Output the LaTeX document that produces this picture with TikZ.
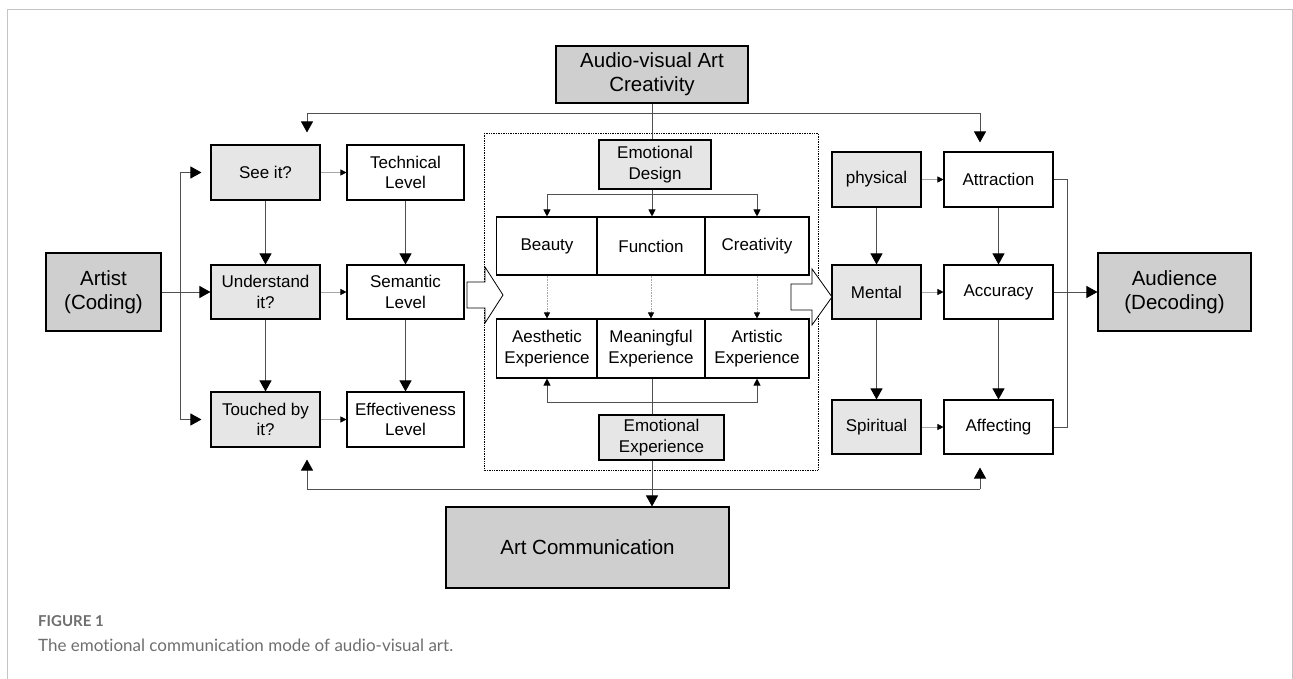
\documentclass[tikz,border=0pt]{standalone}
\usepackage{fontspec}
\setmainfont{Liberation Sans}
\newfontfamily\capfont[Ligatures=NoCommon]{Lato}
\usetikzlibrary{arrows.meta}
\definecolor{darkfill}{HTML}{D0CFD0}
\definecolor{lightfill}{HTML}{E7E6E7}
\definecolor{linegray}{HTML}{505050}
\definecolor{framegray}{HTML}{C4C4C4}
\definecolor{capgray}{HTML}{6E6E6E}
\tikzset{
  box/.style={draw=black, line width=1.1pt, align=center, inner sep=0pt,
    font=\fontsize{17}{20.5}\selectfont},
  mainbox/.style={box, fill=darkfill, font=\fontsize{20.5}{24}\selectfont},
  greybox/.style={box, fill=lightfill},
  plainbox/.style={box, fill=white},
  conn/.style={draw=linegray, line width=0.9pt},
  bigarr/.style={conn, -{Triangle[length=11pt,width=12pt,color=black]}},
  medarr/.style={conn, -{Triangle[length=7pt,width=7pt,color=black]}},
  smallarr/.style={draw=gray!70, line width=0.6pt, -{Triangle[length=6pt,width=6pt,color=black]}},
  dotarr/.style={draw=gray!70, line width=0.6pt, densely dotted, -{Triangle[length=6pt,width=6pt,color=black]}},
  hollow/.style={draw=black, line width=0.8pt, fill=white}
}
\begin{document}
\begin{tikzpicture}[x=1pt,y=-1pt]
\useasboundingbox (0,0) rectangle (1293,679);
\def\bx#1#2#3#4#5#6#7{
\node[#1, minimum width=#5pt, minimum height=#6pt] (#2) at (#3,#4) {#7};
}
\def\harr#1#2#3#4{
\draw[hollow] (#1,#2-13) -- ++(#3,0) -- ++(0,-15) -- ++(#4,28) -- ++(-#4,28)
  -- ++(0,-15) -- ++(-#3,0) -- cycle;
}
% page frame
\draw[framegray, line width=1pt] (7,679) -- (7,10) -- (1292,10) -- (1292,679);
% dotted frame round the design part
\draw[densely dotted, line width=0.7pt] (484,133) rectangle (818,470);
% big boxes
\bx{mainbox}{avc}{652}{74.5}{192}{57}{Audio-visual Art\\Creativity}
\bx{mainbox}{artist}{103.5}{292}{115}{78}{Artist\\(Coding)}
\bx{mainbox}{audience}{1174.5}{292}{153}{78}{Audience\\(Decoding)}
\bx{mainbox}{artcomm}{587.5}{547.5}{283}{81}{Art Communication}
% left block
\bx{greybox}{seeit}{265.5}{172.5}{109}{55}{See it?}
\bx{greybox}{underst}{265.5}{292}{109}{54}{Understand\\it?}
\bx{greybox}{touched}{265.5}{419.5}{109}{55}{Touched by\\it?}
\bx{plainbox}{technical}{405.5}{172.5}{117}{55}{Technical\\Level}
\bx{plainbox}{semantic}{405.5}{292}{117}{54}{Semantic\\Level}
\bx{plainbox}{effective}{405.5}{419.5}{117}{55}{Effectiveness\\Level}
% middle block
\bx{greybox}{edesign}{655}{164.5}{112}{49}{Emotional\\Design}
\bx{plainbox}{beauty}{547}{246}{101}{58}{Beauty}
\bx{plainbox}{function}{651}{246}{108}{58}{Function}
\bx{plainbox}{creat}{757}{246}{104}{58}{Creativity}
\bx{plainbox}{aesth}{547}{348.5}{101}{59}{Aesthetic\\Experience}
\bx{plainbox}{meaning}{651}{348.5}{108}{59}{Meaningful\\Experience}
\bx{plainbox}{artistic}{757}{348.5}{104}{59}{Artistic\\Experience}
\bx{greybox}{eexp}{661.5}{437.5}{125}{45}{Emotional\\Experience}
% right block
\bx{greybox}{physical}{876.5}{179.5}{89}{55}{physical}
\bx{greybox}{mental}{876.5}{292}{89}{54}{Mental}
\bx{greybox}{spiritual}{876.5}{427}{89}{54}{Spiritual}
\bx{plainbox}{attraction}{998.5}{179.5}{109}{55}{Attraction}
\bx{plainbox}{accuracy}{998.5}{292}{109}{54}{Accuracy}
\bx{plainbox}{affecting}{998.5}{427}{109}{54}{Affecting}
% hollow arrows
\harr{467}{295}{18}{18}
\harr{791}{297}{21}{20}
% top and bottom lines
\coordinate (tl) at (307,113);
\coordinate (tr) at (980,113);
\coordinate (bl) at (307,489);
\coordinate (br) at (980,489);
\draw[conn] (avc.south) -- (avc.south |- edesign.north);
\draw[bigarr, shorten >=12pt] (tr) -- (tl) -- (tl |- seeit.north);
\draw[bigarr, shorten >=9pt] (tr) -- (tr |- attraction.north);
\draw[bigarr, shorten >=12pt] (br) -- (bl) -- (bl |- touched.south);
\draw[bigarr, shorten >=13pt] (br) -- (br |- affecting.south);
% artist side
\coordinate (lv) at (180,0);
\draw[bigarr] (artist.east) -- (underst.west);
\draw[bigarr, shorten >=9pt] (lv |- touched) -- (lv |- seeit) -- (seeit.west);
\draw[bigarr, shorten >=9pt] (lv |- seeit) -- (lv |- touched) -- (touched.west);
\draw[bigarr] (seeit) -- (underst);
\draw[bigarr] (underst) -- (touched);
\draw[bigarr] (technical) -- (semantic);
\draw[bigarr] (semantic) -- (effective);
\draw[smallarr] (seeit) -- (technical);
\draw[smallarr] (underst) -- (semantic);
\draw[smallarr] (touched) -- (effective);
% design part
\coordinate (ed) at (652,194);
\coordinate (ex) at (652,402);
\draw[conn] (ed |- edesign.south) -- (ed);
\draw[medarr] (ed) -| (beauty.north);
\draw[medarr] (ed) -| (creat.north);
\draw[medarr] (ed) -- (ed |- function.north);
\draw[dotarr] (beauty) -- (aesth);
\draw[dotarr] (function) -- (meaning);
\draw[dotarr] (creat) -- (artistic);
\draw[conn] (ex |- meaning.south) -- (ex |- eexp.north);
\draw[medarr] (ex) -| (aesth.south);
\draw[medarr] (ex) -| (artistic.south);
\draw[bigarr] (ex |- eexp.south) -- (ex |- artcomm.north);
% audience side
\draw[bigarr] (physical) -- (mental);
\draw[bigarr] (mental) -- (spiritual);
\draw[bigarr] (attraction) -- (accuracy);
\draw[bigarr] (accuracy) -- (affecting);
\draw[smallarr] (physical) -- (attraction);
\draw[smallarr] (mental) -- (accuracy);
\draw[smallarr] (spiritual) -- (affecting);
\draw[conn] (attraction.east) -- ++(14,0) |- (affecting.east);
\draw[bigarr] (accuracy) -- (audience);
% caption
\node[anchor=base west, inner sep=0pt, text=capgray, font=\capfont\fontsize{15}{17}\selectfont\bfseries] (figno) at (38,626) {FIGURE 1};
\node[anchor=base west, inner sep=0pt, text=capgray, font=\capfont\fontsize{17}{20}\selectfont] (figtext) at (38,651) {The emotional communication mode of audio-visual art.};
\end{tikzpicture}
\end{document}
